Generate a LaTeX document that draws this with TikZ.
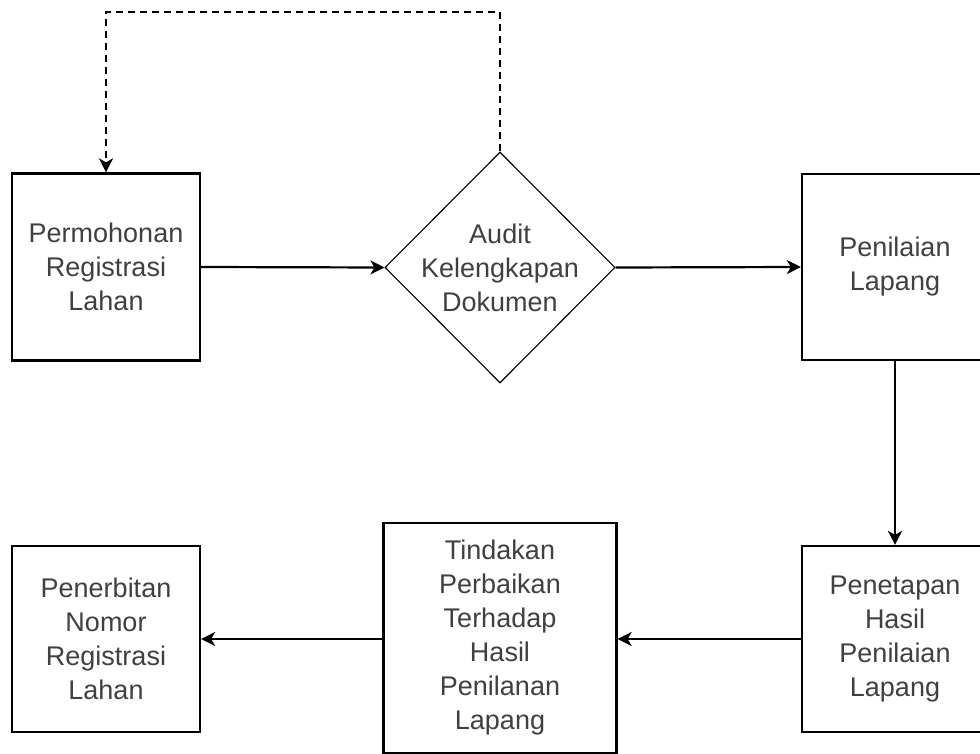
\documentclass[tikz,border=0pt]{standalone}
\usepackage{fontspec}
\setmainfont{Liberation Sans}
\usetikzlibrary{arrows.meta,shapes.geometric}
\begin{document}
\begin{tikzpicture}[x=0.5pt,y=-0.5pt,
  box/.style={draw=black,line width=1.1pt,inner sep=0pt,align=center,text=black!75,
    font=\fontsize{13.5pt}{17pt}\selectfont},
  txt/.style={inner sep=0pt,align=center,text=black!75,font=\fontsize{13.5pt}{17pt}\selectfont},
  dec/.style={diamond,draw=black,line width=0.55pt,inner sep=0pt},
  conn/.style={line width=1.1pt,-{Stealth[length=7pt,width=7pt,inset=2pt]}},
  back/.style={conn,dash pattern=on 3.5pt off 2.5pt}]
\clip (0,0) rectangle (980,754);
\fill[white] (0,0) rectangle (980,754);
\node[box,minimum width=94pt,minimum height=93.5pt] (b1) at (106,267) {Permohonan\\Registrasi\\Lahan};
\node[dec,minimum width=115pt,minimum height=115.5pt] (d) at (500,267.5) {};
\node[txt] (dt) at (500,268) {Audit\\Kelengkapan\\Dokumen};
\node[box,minimum width=93pt,minimum height=93pt] (b3) at (895,267) {Penilaian\\Lapang};
\node[box,minimum width=93pt,minimum height=93pt] (b4) at (895,639) {Penetapan\\Hasil\\Penilaian\\Lapang};
\node[box,minimum width=116.5pt,minimum height=115pt] (b5) at (500,638) {Tindakan\\Perbaikan\\Terhadap\\Hasil\\Penilanan\\Lapang};
\node[box,minimum width=94pt,minimum height=93pt] (b6) at (106,639) {Penerbitan\\Nomor\\Registrasi\\Lahan};
\coordinate (top) at (500,12);
\draw[conn] (b1.east) -- (d.west);
\draw[conn] (d.east) -- (b3.west);
\draw[conn] (b3.south) -- (b4.north);
\draw[conn] (b4.west) -- (b4.west -| b5.east);
\draw[conn] (b5.west |- b6.east) -- (b6.east);
\draw[back] (d.north) -- (top) -| (b1.north);
\end{tikzpicture}
\end{document}
